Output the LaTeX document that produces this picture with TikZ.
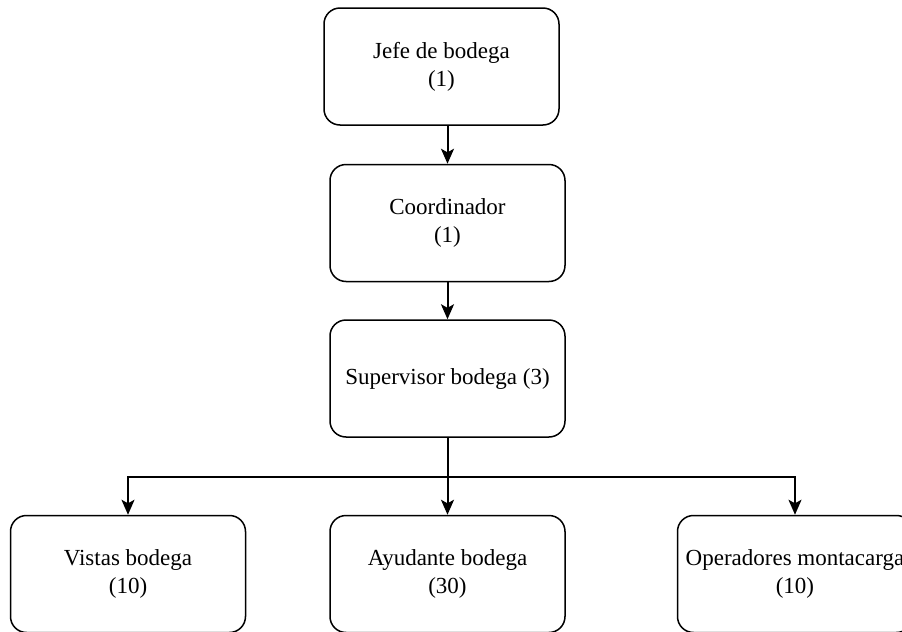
\documentclass[tikz,border=0pt]{standalone}
\usepackage{fontspec}
\setmainfont{Liberation Serif}
\usepackage{tikz}
\usetikzlibrary{arrows.meta, positioning}

\begin{document}
\begin{tikzpicture}[
    x=0.5pt, y=-0.5pt,
    role/.style={draw=black, line width=0.75pt, rounded corners=8pt, fill=white,
                 minimum width=117.5pt, minimum height=58.5pt, align=center,
                 inner sep=2pt, font=\fontsize{11.5}{14}\selectfont},
    link/.style={draw=black, line width=1pt, -{Stealth[length=7.5pt, width=6.5pt, inset=1.8pt]}}
]
    \useasboundingbox (0,0) rectangle (902,632);
    \clip (0,0) rectangle (902,632);
    % chain of command
    \node[role] (jefe) at (441.5,66.5) {Jefe de bodega\\(1)};
    \node[role, below=19pt of jefe, xshift=3pt] (coord) {Coordinador\\(1)};
    \node[role, below=18.5pt of coord] (sup) {Supervisor bodega (3)};
    % bottom row
    \node[role, below=38.5pt of sup] (ayu) {Ayudante bodega\\(30)};
    \node[role, left=41.5pt of ayu] (vistas) {Vistas bodega\\(10)};
    \node[role, right=55.5pt of ayu] (oper) {Operadores montacarga\\(10)};

    \draw[link] (jefe.south -| coord.north) -- (coord.north);
    \draw[link] (coord) -- (sup);
    \draw[link] (sup) -- (ayu);
    \draw[link] (sup.south) -- ++(0,39) -| (vistas.north);
    \draw[link] (sup.south) -- ++(0,39) -| (oper.north);
\end{tikzpicture}
\end{document}
